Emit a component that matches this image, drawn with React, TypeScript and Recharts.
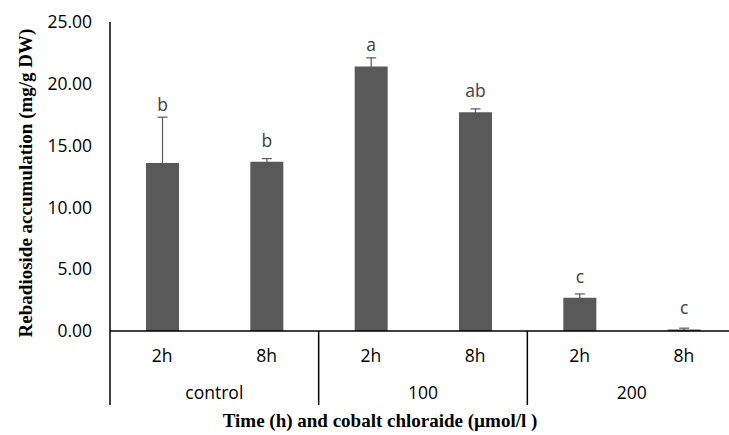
import React from "react";
import { BarChart, Bar, XAxis, YAxis, ErrorBar, LabelList, Label } from "recharts";

const times = ["2h", "8h", "2h", "8h", "2h", "8h"];
const groups = ["control", "control", "100", "100", "200", "200"];
const means = [13.6, 13.7, 21.4, 17.7, 2.7, 0.13];
const errors = [3.7, 0.25, 0.7, 0.27, 0.3, 0.1];
const letters = ["b", "b", "a", "ab", "c", "c"];
const yTicks = [0, 5, 10, 15, 20, 25];

const data = times.map((t, i) => ({
  time: t,
  group: groups[i],
  mean: means[i],
  err: errors[i],
  letter: letters[i],
}));

const W = 736;
const H = 435;
const TOP = 22;
const LEFT = 110;
const X_AXIS_H = 104;
const PLOT_W = W - LEFT;
const PLOT_H = H - TOP - X_AXIS_H;
const AXIS_Y = TOP + PLOT_H;
const Y_MAX = 25;
const STEP = PLOT_W / data.length;
const SANS = "'Open Sans', 'Liberation Sans', sans-serif";
const SERIF = "'Liberation Serif', 'Times New Roman', serif";
const FS = 17.5;

function TimeTick(props: any) {
  const { x, payload } = props;
  const i = payload.index;
  return (
    <g>
      <text x={x} y={355} textAnchor="middle" dominantBaseline="central" fontFamily={SANS} fontSize={FS} fill="#000">
        {payload.value}
      </text>
      {i % 2 === 0 && (
        <>
          <line x1={x - STEP / 2} y1={AXIS_Y} x2={x - STEP / 2} y2={405} stroke="#000" strokeWidth={1.5} />
          <text x={x + STEP / 2} y={392} textAnchor="middle" dominantBaseline="central" fontFamily={SANS} fontSize={FS} fill="#000">
            {groups[i]}
          </text>
        </>
      )}
      {i === data.length - 1 && (
        <line x1={x + STEP / 2} y1={AXIS_Y} x2={x + STEP / 2} y2={405} stroke="#000" strokeWidth={1.5} />
      )}
    </g>
  );
}

function LetterLabel(props: any) {
  const { x, y, width, index, value } = props;
  const errTop = AXIS_Y - ((means[index] + errors[index]) * PLOT_H) / Y_MAX;
  const baseline = Math.min(y - 15, errTop - 6);
  return (
    <text x={x + width / 2} y={baseline} textAnchor="middle" fontFamily={SANS} fontSize={FS} fill="#404040">
      {value}
    </text>
  );
}

export default function App() {
  return (
    <div style={{ position: "absolute", left: 0, top: 0, width: 729, height: 435, overflow: "hidden", background: "#fff" }}>
      <BarChart width={W} height={H} data={data} margin={{ top: TOP, right: 0, bottom: 0, left: 0 }}>
        <XAxis
          dataKey="time"
          height={X_AXIS_H}
          interval={0}
          tickLine={false}
          axisLine={{ stroke: "#000", strokeWidth: 1.5 }}
          tick={<TimeTick />}
        >
          <Label
            content={() => (
              <text x={380} y={420} textAnchor="middle" dominantBaseline="central" fontFamily={SERIF} fontWeight="bold" fontSize={19} fill="#000">
                Time (h) and cobalt chloraide (µmol/l )
              </text>
            )}
          />
        </XAxis>
        <YAxis
          width={LEFT}
          domain={[0, Y_MAX]}
          ticks={yTicks}
          tickFormatter={(v: number) => v.toFixed(2)}
          tickLine={false}
          tickMargin={12}
          axisLine={{ stroke: "#000", strokeWidth: 1.5 }}
          tick={{ fontFamily: SANS, fontSize: FS, fill: "#000" }}
        >
          <Label
            content={() => (
              <text
                x={25}
                y={183}
                transform="rotate(-90 25 183)"
                textAnchor="middle"
                dominantBaseline="central"
                fontFamily={SERIF}
                fontWeight="bold"
                fontSize={19}
                fill="#000"
              >
                Rebadioside accumulation (mg/g DW)
              </text>
            )}
          />
        </YAxis>
        <Bar dataKey="mean" fill="#595959" barSize={33} isAnimationActive={false}>
          <ErrorBar dataKey="err" width={5} stroke="#595959" strokeWidth={1.2} direction="y" />
          <LabelList dataKey="letter" content={<LetterLabel />} />
        </Bar>
      </BarChart>
    </div>
  );
}
